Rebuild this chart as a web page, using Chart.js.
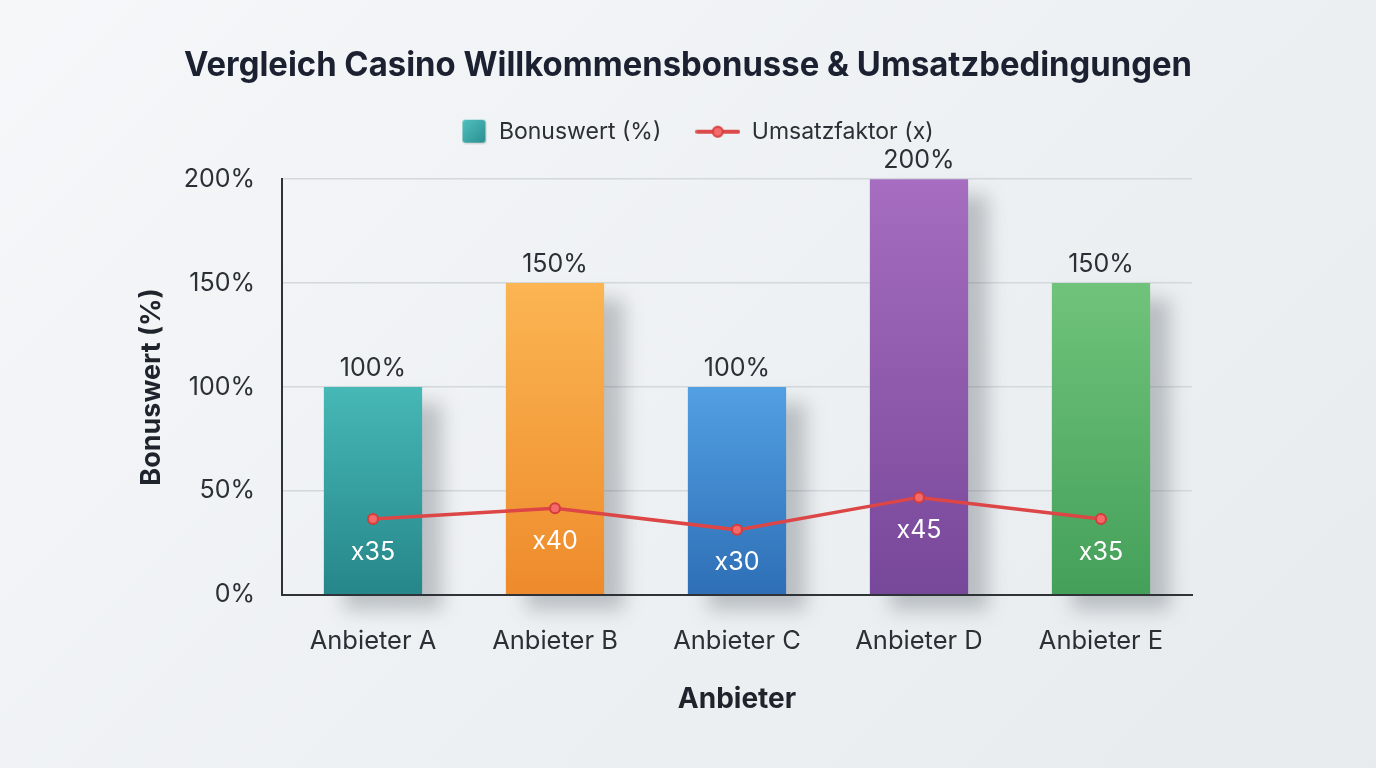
<!DOCTYPE html>
<html lang="de">
<head>
  <meta charset="UTF-8">
  <title>Vergleich Casino Willkommensbonusse</title>
  <script src="https://cdn.jsdelivr.net/npm/chart.js"></script>
  <style>
    html, body { margin: 0; padding: 0; }
    body {
      width: 1376px; height: 768px; overflow: hidden;
      background: linear-gradient(135deg, #f5f7f9 0%, #eef1f3 50%, #e7ebee 100%);
    }
    #wrap { position: relative; width: 1376px; height: 768px; }
  </style>
</head>
<body>
<div id="wrap"><canvas id="bonusChart"></canvas></div>

<script>
  // data
  const anbieter = ['Anbieter A', 'Anbieter B', 'Anbieter C', 'Anbieter D', 'Anbieter E'];
  const bonuswert = [100, 150, 100, 200, 150];
  const umsatzfaktor = [35, 40, 30, 45, 35];
  const yTicks = [0, 50, 100, 150, 200];

  // bar colours: top / bottom of gradient
  const barTop = ['#46b8b5', '#fbb552', '#529fe2', '#a66dc0', '#70c37b'];
  const barBottom = ['#26868a', '#ee8b2c', '#2e6fb6', '#774799', '#44a059'];

  const FONT = 'Inter, "Noto Sans", sans-serif';
  const TEXT = '#2b2f36';

  function barGradient(ctx) {
    const chart = ctx.chart;
    const area = chart.chartArea;
    const i = ctx.dataIndex;
    if (!area || i === undefined) return barTop[0];
    const top = chart.scales.y.getPixelForValue(bonuswert[i]);
    const g = chart.ctx.createLinearGradient(0, top, 0, area.bottom);
    g.addColorStop(0, barTop[i]);
    g.addColorStop(1, barBottom[i]);
    return g;
  }

  // legend icons (both 45px wide so text sits the same distance from the icon)
  function squareIcon() {
    const c = document.createElement('canvas');
    c.width = 45; c.height = 26;
    const x = c.getContext('2d');
    const g = x.createLinearGradient(21, 1, 45, 25);
    g.addColorStop(0, '#4fc0bd');
    g.addColorStop(1, '#2a8c8f');
    x.shadowColor = 'rgba(0,0,0,0.18)';
    x.shadowBlur = 2;
    x.shadowOffsetX = 1;
    x.shadowOffsetY = 1;
    x.fillStyle = g;
    x.beginPath();
    x.roundRect(20, 1, 23, 23, 3);
    x.fill();
    return c;
  }
  function lineIcon() {
    const c = document.createElement('canvas');
    c.width = 45; c.height = 14;
    const x = c.getContext('2d');
    x.strokeStyle = '#dc4b4b';
    x.lineWidth = 4;
    x.lineCap = 'round';
    x.beginPath(); x.moveTo(2, 7); x.lineTo(43, 7); x.stroke();
    x.fillStyle = '#f36a6a';
    x.beginPath(); x.arc(22.5, 7, 5, 0, Math.PI * 2); x.fill();
    x.lineWidth = 2;
    x.strokeStyle = '#d43d3d';
    x.stroke();
    return c;
  }

  // extra room under the legend for the 200% label
  const legendMargin = {
    id: 'legendMargin',
    beforeInit(chart) {
      const fit = chart.legend.fit;
      chart.legend.fit = function () {
        fit.bind(chart.legend)();
        this.height += 26;
      };
    }
  };

  const shadowPlugin = {
    id: 'barShadow',
    beforeDatasetDraw(chart, args) {
      if (args.meta.type !== 'bar') return;
      const c = chart.ctx;
      c.save();
      c.shadowColor = 'rgba(40,50,60,0.26)';
      c.shadowBlur = 18;
      c.shadowOffsetX = 20;
      c.shadowOffsetY = 16;
    },
    afterDatasetDraw(chart, args) {
      if (args.meta.type !== 'bar') return;
      chart.ctx.restore();
    }
  };

  const labelPlugin = {
    id: 'valueLabels',
    afterDatasetsDraw(chart) {
      const c = chart.ctx;
      c.save();
      c.textAlign = 'center';
      c.textBaseline = 'middle';
      // bar values
      c.font = '25px ' + FONT;
      c.fillStyle = TEXT;
      chart.getDatasetMeta(0).data.forEach((el, i) => {
        c.fillText(bonuswert[i] + '%', el.x, el.y - 19);
      });
      // factor labels
      c.fillStyle = '#ffffff';
      chart.getDatasetMeta(1).data.forEach((el, i) => {
        c.fillText('x' + umsatzfaktor[i], el.x, el.y + 33);
      });
      // y axis title
      const area = chart.chartArea;
      c.translate(152, (area.top + area.bottom) / 2);
      c.rotate(-Math.PI / 2);
      c.font = 'bold 27px ' + FONT;
      c.fillStyle = '#1f242c';
      c.fillText('Bonuswert (%)', 0, 0);
      c.restore();
    }
  };

  const ctx = document.getElementById('bonusChart').getContext('2d');
  new Chart(ctx, {
    data: {
      labels: anbieter,
      datasets: [
        {
          type: 'bar',
          label: 'Bonuswert (%)',
          data: bonuswert,
          backgroundColor: barGradient,
          borderWidth: 0,
          categoryPercentage: 0.54,
          barPercentage: 1.0,
          clip: false,
          order: 1
        },
        {
          type: 'line',
          label: 'Umsatzfaktor (x)',
          data: umsatzfaktor,
          yAxisID: 'y1',
          borderColor: '#dc4646',
          borderWidth: 3.5,
          pointRadius: 5,
          pointBackgroundColor: '#f26a6a',
          pointBorderColor: '#d63c3c',
          pointBorderWidth: 2,
          tension: 0,
          order: 0
        }
      ]
    },
    options: {
      responsive: true,
      maintainAspectRatio: false,
      animation: false,
      layout: { padding: { top: 46, right: 184, bottom: 50, left: 184 } },
      plugins: {
        title: {
          display: true,
          text: 'Vergleich Casino Willkommensbonusse & Umsatzbedingungen',
          color: '#1b2130',
          font: { family: FONT, size: 33.5, weight: 'bold' },
          padding: { top: 0, bottom: 0 }
        },
        legend: {
          display: true,
          labels: {
            usePointStyle: true,
            pointStyleWidth: 45,
            color: TEXT,
            font: { family: FONT, size: 23 },
            padding: 34,
            generateLabels() {
              return [
                { text: 'Bonuswert (%)', pointStyle: squareIcon(), fontColor: TEXT, datasetIndex: 0 },
                { text: 'Umsatzfaktor (x)', pointStyle: lineIcon(), fontColor: TEXT, datasetIndex: 1 }
              ];
            }
          }
        },
        tooltip: { enabled: false }
      },
      scales: {
        x: {
          grid: { display: false, drawTicks: false },
          border: { display: true, color: '#2f3338', width: 2 },
          ticks: { color: TEXT, font: { family: FONT, size: 25.5 }, padding: 31 },
          title: {
            display: true, text: 'Anbieter', color: '#1f242c',
            font: { family: FONT, size: 28, weight: 'bold' },
            padding: { top: -5, bottom: 2 }
          }
        },
        y: {
          min: 0, max: 200,
          afterBuildTicks(axis) { axis.ticks = yTicks.map(v => ({ value: v })); },
          afterFit(axis) { axis.width = 98; },
          grid: { color: '#d3d8dc', lineWidth: 1.5, drawTicks: false },
          border: { display: true, color: '#2f3338', width: 2 },
          ticks: { color: TEXT, font: { family: FONT, size: 25 }, padding: 27, callback: v => v + '%' }
        },
        y1: {
          display: false,
          min: 0, max: 192
        }
      }
    },
    plugins: [legendMargin, shadowPlugin, labelPlugin]
  });
</script>
</body>
</html>
